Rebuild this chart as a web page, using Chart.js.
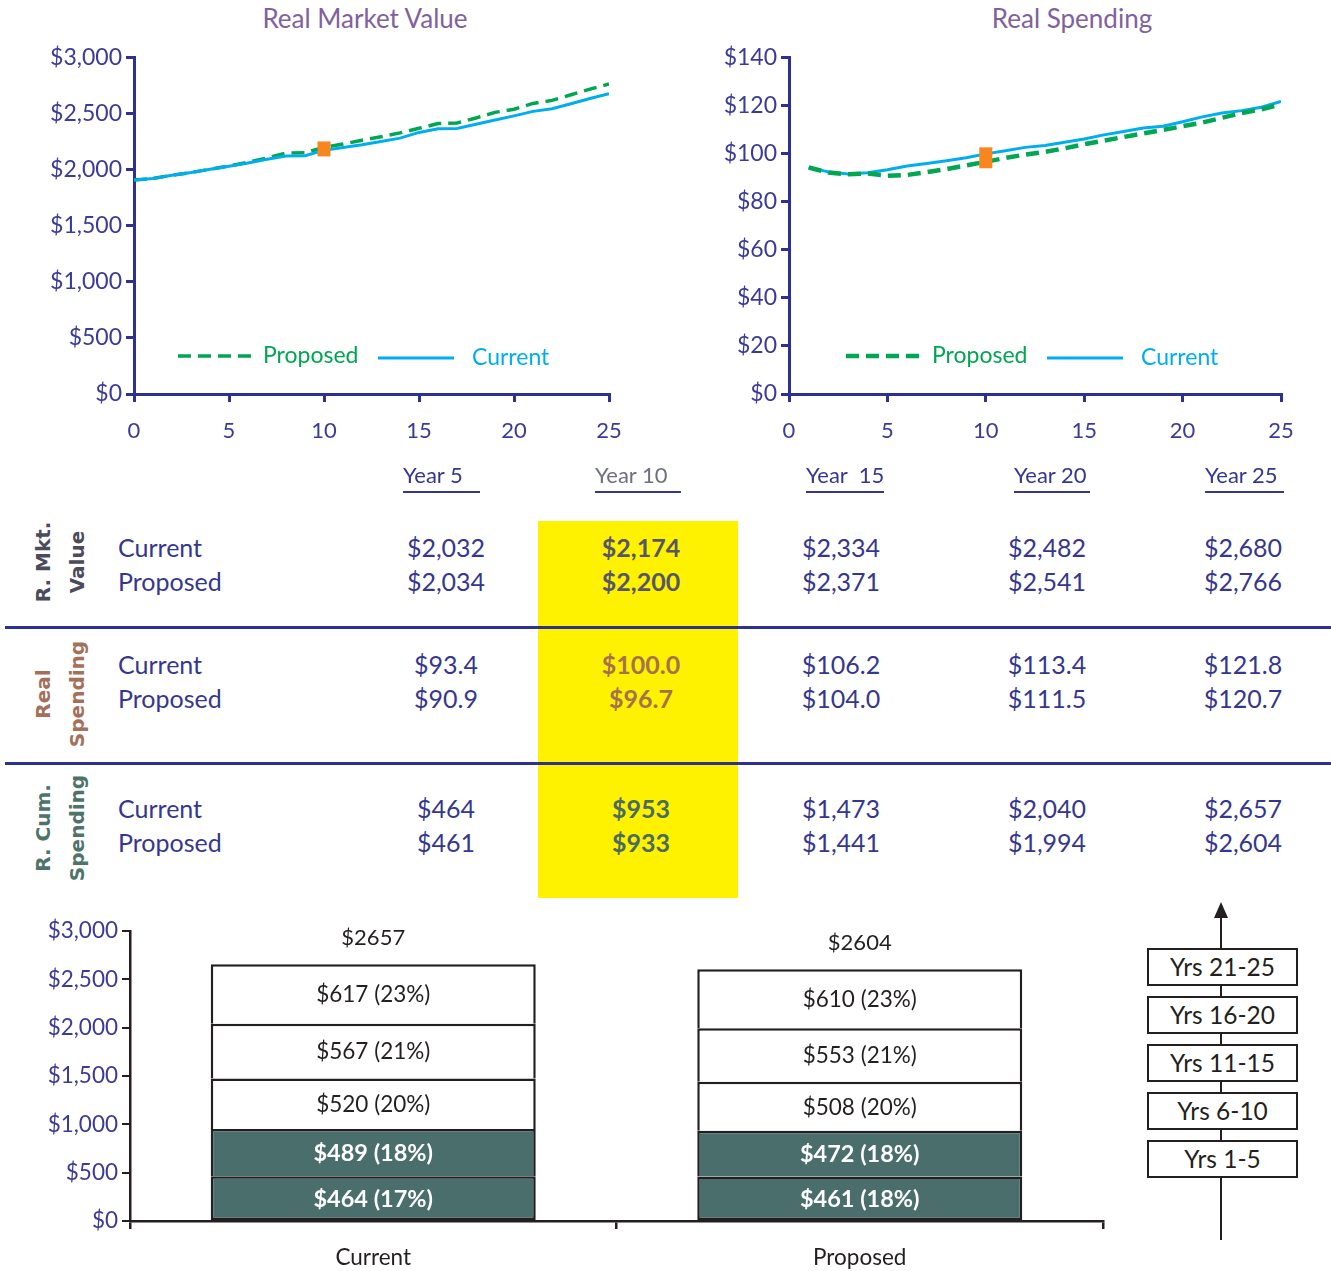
<!DOCTYPE html>
<html>
<head>
<meta charset="utf-8">
<title>Real Market Value and Spending</title>
<script src="https://cdn.jsdelivr.net/npm/chart.js@4.4.1/dist/chart.umd.min.js"></script>
<style>
  html, body { margin: 0; padding: 0; background: #fff; }
  body { position: relative; width: 1331px; height: 1271px; overflow: hidden; font-family: Lato, "Open Sans", sans-serif; }
  canvas { position: absolute; }
  .title { position: absolute; top: 2px; font-size: 26px; color: #80619e; transform: translateX(-50%); white-space: nowrap; }
  .cell { position: absolute; font-size: 25px; color: #35378f; white-space: nowrap; line-height: 30px; }
  .head { position: absolute; font-size: 22px; color: #35378f; border-bottom: 2.5px solid #35378f; line-height: 28px; padding-bottom: 2px; white-space: nowrap; }
  .group { position: absolute; font-family: "DejaVu Sans", sans-serif; font-weight: bold; font-size: 20px; line-height: 34px; text-align: center; transform: translate(-50%, -50%) rotate(-90deg); white-space: nowrap; }
  .rule { position: absolute; left: 5px; width: 1326px; height: 3px; background: #2e3192; }
  .band { position: absolute; left: 1147px; width: 147px; height: 34px; border: 2px solid #231f20; background: #fff; text-align: center; font-size: 24.5px; line-height: 34px; color: #231f20; }
</style>
</head>
<body>
<div class="title" style="left:365px">Real Market Value</div>
<div class="title" style="left:1072px">Real Spending</div>
<canvas id="mvChart" width="640" height="440" style="left:0;top:40px"></canvas>
<canvas id="rsChart" width="671" height="440" style="left:660px;top:40px"></canvas>
<div id="summary"></div>
<canvas id="cumChart" width="1120" height="371" style="left:0;top:900px"></canvas>
<svg width="44" height="350" style="position:absolute;left:1200px;top:895px">
  <line x1="21" y1="20" x2="21" y2="345" stroke="#231f20" stroke-width="2"/>
  <polygon points="21,7 14,23 28,23" fill="#231f20"/>
</svg>
<div id="bands"></div>

<script>
// ---- Real market value by year (0–25) ----
const mvYears    = [0, 1, 2, 3, 4, 5, 6, 7, 8, 9, 10, 11, 12, 13, 14, 15, 16, 17, 18, 19, 20, 21, 22, 23, 24, 25];
const mvCurrent  = [1909, 1923, 1952, 1976, 2005, 2032, 2062, 2094, 2124, 2127, 2174, 2200, 2225, 2254, 2283, 2334, 2366, 2369, 2407, 2445, 2482, 2522, 2546, 2590, 2637, 2680];
const mvProposed = [1909, 1923, 1952, 1976, 2006, 2034, 2068, 2106, 2150, 2153, 2200, 2230, 2265, 2295, 2330, 2371, 2413, 2419, 2463, 2513, 2541, 2593, 2620, 2670, 2720, 2766];

// ---- Real spending by year (1–25) ----
const rsYears    = [1, 2, 3, 4, 5, 6, 7, 8, 9, 10, 11, 12, 13, 14, 15, 16, 17, 18, 19, 20, 21, 22, 23, 24, 25];
const rsCurrent  = [94.3, 92.5, 91.6, 92.1, 93.4, 94.9, 96.0, 97.1, 98.4, 100.0, 101.3, 102.7, 103.5, 104.8, 106.2, 107.9, 109.3, 110.8, 111.5, 113.4, 115.4, 117.0, 118.0, 119.4, 121.8];
const rsProposed = [94.3, 92.2, 91.5, 91.8, 90.9, 91.2, 92.4, 93.6, 95.2, 96.7, 98.3, 99.7, 100.8, 102.3, 104.0, 105.5, 107.0, 108.5, 110.0, 111.5, 113.0, 115.0, 117.0, 118.5, 120.7];

// ---- Summary table ----
const tableHeaders     = ['Year 5', 'Year 10', 'Year\u00a0 15', 'Year 20', 'Year 25'];
const mktValCurrent    = [2032, 2174, 2334, 2482, 2680];
const mktValProposed   = [2034, 2200, 2371, 2541, 2766];
const spendCurrent     = [93.4, 100.0, 106.2, 113.4, 121.8];
const spendProposed    = [90.9, 96.7, 104.0, 111.5, 120.7];
const cumSpendCurrent  = [464, 953, 1473, 2040, 2657];
const cumSpendProposed = [461, 933, 1441, 1994, 2604];
const highlightYear    = 10;

// ---- Cumulative spending by five-year band ----
const scenarios     = ['Current', 'Proposed'];
const bandLabels    = ['Yrs 1-5', 'Yrs 6-10', 'Yrs 11-15', 'Yrs 16-20', 'Yrs 21-25'];
const bandCurrent   = [464, 489, 520, 567, 617];
const bandProposed  = [461, 472, 508, 553, 610];

// ---- Palette ----
const NAVY = '#2e3192', TICK = '#3a3b98', GREEN = '#00a651', CYAN = '#00aeef', ORANGE = '#f7861f';
const TEAL = '#4a6e6c', INK = '#231f20', YELLOW = '#fff200';

Chart.defaults.font.family = 'Lato, "Open Sans", sans-serif';

const money = v => '$' + v.toLocaleString('en-US');

// Marks the highlighted year with a bar spanning both scenarios' values.
const yearMarker = {
  id: 'yearMarker',
  afterDatasetsDraw(chart, args, o) {
    const { ctx, scales: { x, y } } = chart;
    const px = x.getPixelForValue(o.year);
    const y1 = y.getPixelForValue(o.a), y2 = y.getPixelForValue(o.b);
    const top = Math.min(y1, y2) - o.pad, h = Math.abs(y1 - y2) + 2 * o.pad;
    ctx.save();
    ctx.fillStyle = o.color;
    ctx.fillRect(px - o.width / 2, top, o.width, h);
    ctx.restore();
  }
};

// Legend drawn inside the plot area from each dataset's own style.
const inlineLegend = {
  id: 'inlineLegend',
  afterDraw(chart, args, o) {
    const { ctx } = chart;
    ctx.save();
    o.items.forEach(it => {
      const ds = chart.data.datasets[it.dataset];
      ctx.strokeStyle = ds.borderColor;
      ctx.lineWidth = ds.borderWidth;
      ctx.setLineDash(ds.borderDash || []);
      ctx.beginPath();
      ctx.moveTo(it.x0, it.y);
      ctx.lineTo(it.x1, it.y);
      ctx.stroke();
      ctx.setLineDash([]);
      ctx.fillStyle = ds.borderColor;
      ctx.font = '23px Lato, "Open Sans", sans-serif';
      ctx.textBaseline = 'middle';
      ctx.fillText(ds.label, it.tx, it.y);
    });
    ctx.restore();
  }
};

function lineChart(id, c) {
  const pts = (xs, ys) => xs.map((v, i) => ({ x: v, y: ys[i] }));
  return new Chart(document.getElementById(id), {
    type: 'line',
    data: {
      datasets: [
        { label: 'Current', data: pts(c.years, c.current), borderColor: CYAN, borderWidth: 3,
          pointRadius: 0, tension: 0, fill: false, order: c.currentOrder },
        { label: 'Proposed', data: pts(c.years, c.proposed), borderColor: GREEN, borderWidth: c.dashWidth,
          borderDash: [13, 7], pointRadius: 0, tension: 0, fill: false, order: c.proposedOrder }
      ]
    },
    options: {
      responsive: false, animation: false, devicePixelRatio: 1,
      layout: { padding: { top: 15, right: c.padRight, left: 0, bottom: 0 } },
      plugins: {
        legend: { display: false }, tooltip: { enabled: false },
        yearMarker: c.marker,
        inlineLegend: { items: c.legend }
      },
      scales: {
        x: {
          type: 'linear', min: 0, max: 25,
          ticks: { stepSize: 5, color: TICK, font: { size: 22 }, padding: 16 },
          grid: { drawOnChartArea: false, tickLength: 8, lineWidth: 3, color: NAVY },
          border: { color: NAVY, width: 3 },
          afterFit(s) { s.height = 86; }
        },
        y: {
          min: 0, max: c.yMax,
          ticks: { stepSize: c.step, color: TICK, font: { size: 23 }, padding: 4, callback: v => money(v) },
          grid: { drawOnChartArea: false, tickLength: 8, lineWidth: 3, color: NAVY },
          border: { color: NAVY, width: 3 },
          afterFit(s) { s.width = c.yWidth; }
        }
      }
    },
    plugins: [yearMarker, inlineLegend]
  });
}

const hi = mvYears.indexOf(highlightYear);
lineChart('mvChart', {
  years: mvYears, current: mvCurrent, proposed: mvProposed,
  yMax: 3000, step: 500, yWidth: 134, padRight: 31, dashWidth: 3.5,
  currentOrder: 0, proposedOrder: 1,
  marker: { year: highlightYear, a: mvCurrent[hi], b: mvProposed[hi], width: 13, pad: 6, color: ORANGE },
  legend: [ { dataset: 1, x0: 178, x1: 254, tx: 263, y: 316 },
            { dataset: 0, x0: 378, x1: 454, tx: 472, y: 318 } ]
});

const hj = rsYears.indexOf(highlightYear);
lineChart('rsChart', {
  years: rsYears, current: rsCurrent, proposed: rsProposed,
  yMax: 140, step: 20, yWidth: 129, padRight: 50, dashWidth: 4.5,
  currentOrder: 1, proposedOrder: 0,
  marker: { year: highlightYear, a: rsCurrent[hj], b: rsProposed[hj], width: 13, pad: 6.5, color: ORANGE },
  legend: [ { dataset: 1, x0: 186, x1: 262, tx: 272, y: 316 },
            { dataset: 0, x0: 387, x1: 463, tx: 481, y: 318 } ]
});

// ---- Summary table ----
(function buildTable() {
  const root = document.getElementById('summary');
  const add = (cls, html, style) => {
    const d = document.createElement('div');
    d.className = cls; d.innerHTML = html; d.style.cssText = style;
    root.appendChild(d);
    return d;
  };
  // highlighted column band
  add('', '', `position:absolute;left:538px;top:521px;width:200px;height:377px;background:${YELLOW}`);
  add('rule', '', 'top:626px');
  add('rule', '', 'top:762px');

  const headLeft  = [403, 595, 806, 1014, 1205];
  const headWidth = [77, 86, 78, 76, 79];
  const colCenter = [446, 641, 841, 1047, 1243];
  const hiCol = tableHeaders.findIndex(h => h.endsWith(String(highlightYear)));

  tableHeaders.forEach((h, i) => {
    add('head', h, `left:${headLeft[i]}px;top:461px;width:${headWidth[i]}px;` + (i === hiCol ? 'color:#6e6f80' : ''));
  });

  const groups = [
    { lines: ['R. Mkt.', 'Value'], color: '#4b4b5b', hiColor: '#56566a', cy: 562, rows: [548, 582],
      cur: mktValCurrent, pro: mktValProposed, fmt: v => money(v) },
    { lines: ['Real', 'Spending'], color: '#a3705a', hiColor: '#a5714f', cy: 694, rows: [665, 699],
      cur: spendCurrent, pro: spendProposed, fmt: v => '$' + v.toFixed(1) },
    { lines: ['R. Cum.', 'Spending'], color: '#4d736a', hiColor: '#4a6b60', cy: 828, rows: [809, 843],
      cur: cumSpendCurrent, pro: cumSpendProposed, fmt: v => money(v) }
  ];

  groups.forEach(g => {
    add('group', g.lines.join('<br>'), `left:60px;top:${g.cy}px;color:${g.color}`);
    [['Current', g.cur], ['Proposed', g.pro]].forEach(([name, vals], r) => {
      const y = g.rows[r] - 16;
      add('cell', name, `left:118px;top:${y}px`);
      vals.forEach((v, i) => {
        const bold = i === hiCol;
        add('cell', g.fmt(v),
          `left:${colCenter[i]}px;top:${y}px;transform:translateX(-50%);` +
          (bold ? `font-weight:bold;font-size:25px;color:${g.hiColor}` : ''));
      });
    });
  });
})();

// ---- Cumulative spending stacked bars ----
const scenarioBands = [bandCurrent, bandProposed];
const totals = scenarioBands.map(b => b.reduce((s, v) => s + v, 0));

const barLabels = {
  id: 'barLabels',
  afterDatasetsDraw(chart) {
    const { ctx } = chart;
    ctx.save();
    ctx.textAlign = 'center';
    ctx.textBaseline = 'middle';
    let tops = scenarios.map(() => Infinity);
    chart.data.datasets.forEach((ds, i) => {
      const meta = chart.getDatasetMeta(i);
      meta.data.forEach((bar, j) => {
        const v = ds.data[j];
        const pct = Math.round(v / totals[j] * 100);
        const dark = i < 2;
        ctx.fillStyle = dark ? '#ffffff' : INK;
        ctx.font = (dark ? 'bold 23.5px ' : '22.5px ') + 'Lato, "Open Sans", sans-serif';
        ctx.fillText(`$${v} (${pct}%)`, bar.x, (bar.y + bar.base) / 2 + 1);
        tops[j] = Math.min(tops[j], bar.y);
      });
    });
    ctx.fillStyle = INK;
    ctx.font = '22px Lato, "Open Sans", sans-serif';
    const meta0 = chart.getDatasetMeta(0);
    meta0.data.forEach((bar, j) => ctx.fillText('$' + totals[j], bar.x, tops[j] - 26));
    ctx.restore();
  }
};

new Chart(document.getElementById('cumChart'), {
  type: 'bar',
  data: {
    labels: scenarios,
    datasets: bandLabels.map((lab, i) => ({
      label: lab,
      data: scenarioBands.map(b => b[i]),
      backgroundColor: i < 2 ? TEAL : '#ffffff',
      borderColor: INK,
      borderWidth: i === 0 ? 2.5 : { top: 2.5, left: 2.5, right: 2.5, bottom: 0 },
      borderSkipped: false,
      barPercentage: 1, categoryPercentage: 0.668
    }))
  },
  options: {
    responsive: false, animation: false, devicePixelRatio: 1,
    layout: { padding: { top: 31, right: 17, left: 0, bottom: 0 } },
    plugins: { legend: { display: false }, tooltip: { enabled: false } },
    scales: {
      x: {
        stacked: true,
        ticks: { color: INK, font: { size: 22.5 }, padding: 15 },
        grid: { offset: true, drawOnChartArea: false, tickLength: 8, lineWidth: 2.5, color: INK },
        border: { color: INK, width: 2.5 },
        afterFit(s) { s.height = 50; }
      },
      y: {
        stacked: true, min: 0, max: 3000,
        ticks: { stepSize: 500, color: TICK, font: { size: 22.5 }, padding: 4, callback: v => money(v) },
        grid: { drawOnChartArea: false, tickLength: 8, lineWidth: 2, color: INK },
        border: { color: INK, width: 2.5 },
        afterFit(s) { s.width = 130; }
      }
    }
  },
  plugins: [barLabels]
});

// ---- Band key, oldest band at the bottom ----
(function buildBands() {
  const root = document.getElementById('bands');
  bandLabels.forEach((lab, i) => {
    const d = document.createElement('div');
    d.className = 'band';
    d.textContent = lab;
    d.style.top = (1140 - i * 48) + 'px';
    root.appendChild(d);
  });
})();
</script>
</body>
</html>
